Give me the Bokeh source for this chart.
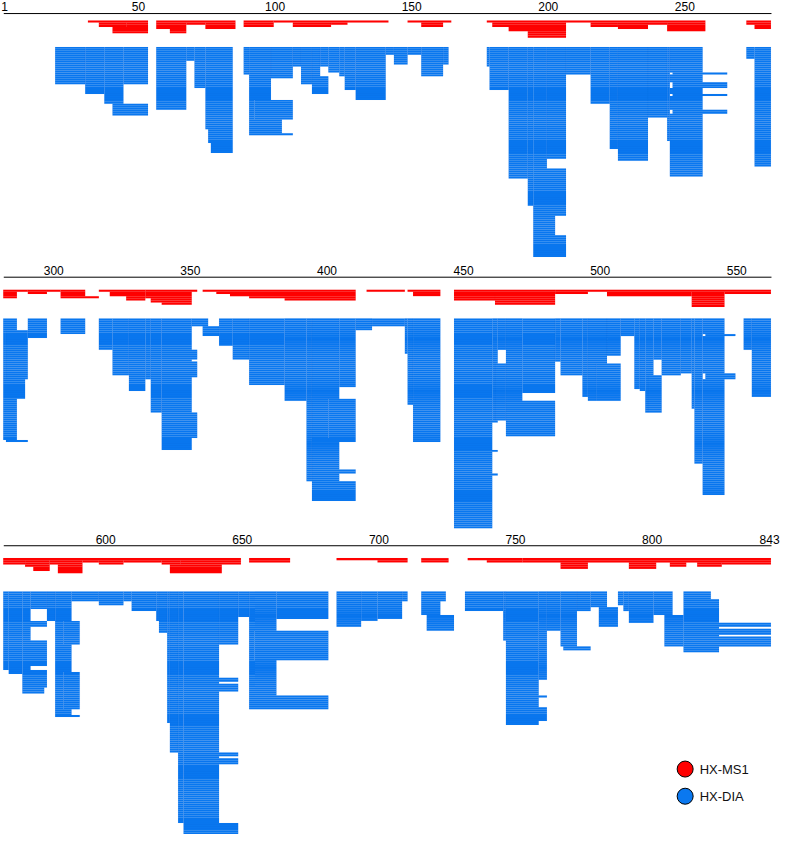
from bokeh.plotting import figure
from bokeh.models import Range1d, ColumnDataSource
from bokeh.core.properties import value
from bokeh.embed import file_html
from bokeh.resources import INLINE

# ---------------- data ----------------
ROW_LEN = 281
ROW_TICKS = [[1, 50, 100, 150, 200, 250],
             [300, 350, 400, 450, 500, 550],
             [600, 650, 700, 750, 800, 843]]
SERIES = ["HX-MS1", "HX-DIA"]

# HX-DIA peptides: start residue, end residue, number of peptides with that span
DIA_START = [20, 31, 38, 45, 41,
             57, 68, 71, 75, 76, 77,
             89, 91, 99, 93, 91, 91, 91,
             107, 110, 114, 117, 114, 120, 124, 126, 130, 141, 144, 149, 154, 162,
             178, 179, 186, 193, 195, 200, 195, 195, 195,
             207, 216, 223, 226, 237, 244,
             245, 246, 245, 246, 245, 246, 245, 246, 245,
             273, 276,
             282, 291, 283, 282, 282, 282, 283,
             303,
             317, 322, 328, 334, 336,
             351, 340, 340, 340, 340, 340, 340, 340, 355,
             361, 366, 372, 385, 393,
             395, 405, 401, 395, 395, 395, 395, 395, 395,
             411, 417, 429, 430, 432,
             447, 447, 447, 447, 447, 447, 447,
             461, 463, 462, 461,
             466, 472, 466,
             484, 486, 494,
             496, 503, 499, 496,
             508, 513, 515,
             517, 520, 518, 517,
             523, 530,
             534, 535, 538, 539, 538, 539, 538,
             553, 556,
             563, 565,
             570, 573, 570, 570, 570, 570, 570, 570,
             579,
             582, 588, 585, 582, 582, 585, 582, 582, 582,
             598, 607, 610, 619, 620, 623, 624, 627,
             629, 642, 629, 629, 629, 629, 629, 629, 629, 629, 629,
             649,
             653, 663, 655, 653, 655, 653, 655, 653, 653, 653,
             685, 694, 700, 709,
             716, 716, 718,
             732,
             746, 747, 759, 747, 747, 747, 747,
             762, 767, 773, 768,
             778, 781,
             788, 790, 792, 801, 805,
             812, 812, 812, 812, 812, 812, 812, 812]
DIA_END = [30, 37, 44, 53, 53,
           67, 70, 74, 84, 84, 84,
           90, 98, 106, 106, 92, 102, 106,
           109, 113, 116, 119, 119, 123, 125, 129, 140, 143, 148, 153, 161, 163,
           178, 185, 192, 194, 199, 206, 206, 202, 206,
           215, 222, 225, 236, 243, 244,
           256, 265, 256, 265, 256, 265, 256, 265, 256,
           275, 281,
           286, 297, 290, 282, 289, 286, 290,
           311,
           321, 327, 333, 335, 339,
           356, 350, 352, 350, 352, 350, 352, 350, 360,
           365, 371, 384, 392, 394,
           404, 410, 410, 400, 410, 404, 410, 404, 410,
           416, 428, 429, 431, 441,
           460, 462, 460, 462, 460, 462, 460,
           462, 465, 465, 461,
           471, 483, 483,
           485, 493, 495,
           502, 507, 507, 498,
           512, 514, 516,
           519, 522, 522, 517,
           529, 533,
           534, 537, 545, 549, 545, 549, 545,
           555, 562,
           564, 569,
           572, 578, 578, 572, 578, 572, 578, 577,
           581,
           587, 597, 590, 584, 587, 590, 584, 587, 590,
           606, 609, 618, 619, 622, 623, 626, 628,
           641, 648, 648, 641, 648, 641, 648, 641, 648, 641, 648,
           652,
           662, 681, 681, 654, 681, 654, 681, 654, 662, 681,
           693, 699, 708, 710,
           724, 722, 727,
           745,
           746, 758, 761, 761, 758, 761, 758,
           766, 772, 777, 777,
           783, 787,
           789, 791, 800, 807, 811,
           821, 824, 843, 824, 843, 824, 843, 824]
DIA_COUNT = [19, 24, 29, 19, 6,
             32, 7, 21, 42, 7, 5,
             14, 27, 16, 10, 10, 7, 1,
             10, 19, 15, 10, 9, 13, 15, 22, 27, 4, 9, 4, 15, 9,
             10, 22, 67, 81, 62, 57, 24, 10, 11,
             14, 29, 52, 58, 36, 48,
             13, 1, 4, 3, 3, 1, 7, 2, 32,
             6, 61,
             6, 10, 25, 25, 10, 21, 1,
             8,
             16, 29, 37, 31, 48,
             4, 16, 5, 1, 8, 18, 13, 6, 5,
             14, 21, 34, 42, 83,
             41, 35, 20, 20, 2, 14, 2, 4, 10,
             6, 4, 18, 44, 63,
             52, 1, 14, 1, 11, 1, 27,
             23, 16, 29, 29,
             42, 38, 18,
             22, 29, 40,
             23, 19, 19, 19,
             9, 36, 37,
             29, 21, 19, 19,
             29, 28,
             46, 74, 8, 1, 19, 3, 59,
             16, 40,
             40, 42,
             15, 9, 3, 7, 13, 2, 9, 3,
             15,
             15, 5, 12, 12, 14, 19, 19, 3, 1,
             7, 5, 10, 15, 21, 67, 82, 118,
             44, 27, 2, 1, 4, 31, 2, 1, 3, 30, 6,
             13,
             20, 14, 3, 3, 9, 9, 3, 3, 18, 7,
             18, 15, 14, 5,
             5, 7, 8,
             10,
             25, 53, 45, 1, 5, 7, 2,
             20, 28, 10, 2,
             8, 10,
             7, 10, 16, 12, 16,
             4, 12, 2, 1, 3, 1, 5, 3]

# HX-MS1 peptides
MS1_START = [32, 36, 46, 41,
             57, 57, 62, 75, 68,
             89, 100, 107, 121,
             149, 154,
             178, 180, 186, 193,
             207, 216, 226, 237, 244,
             273, 276,
             282, 282, 291, 298, 303, 303,
             317, 321, 327,
             334, 334, 336, 340,
             355, 360, 365, 372, 385,
             415, 430, 432,
             447, 447, 462,
             484, 484,
             503, 503, 534, 546,
             563, 563, 571, 574, 580, 583, 592, 598, 607, 621, 628, 624,
             653, 685, 700, 716, 733, 740,
             753, 767, 792, 807, 817, 826]
MS1_END = [53, 45, 53, 53,
           85, 67, 67, 85, 74,
           99, 141, 120, 126,
           164, 161,
           206, 206, 206, 206,
           257, 225, 236, 243, 257,
           281, 281,
           290, 286, 297, 302, 311, 316,
           333, 333, 333,
           352, 350, 350, 350,
           410, 410, 410, 410, 410,
           428, 441, 441,
           483, 461, 483,
           502, 495,
           562, 533, 545, 562,
           649, 570, 579, 579, 591, 591, 597, 606, 620, 627, 649, 642,
           667, 710, 710, 725, 752, 752,
           843, 776, 801, 812, 825, 843]
MS1_COUNT = [1, 2, 2, 3,
             1, 3, 2, 3, 1,
             3, 1, 2, 1,
             1, 2,
             1, 2, 2, 3,
             1, 2, 3, 1, 4,
             2, 2,
             1, 3, 2, 1, 3, 1,
             1, 2, 2,
             1, 3, 2, 1,
             1, 1, 1, 1, 1,
             1, 1, 2,
             2, 3, 5,
             1, 1,
             1, 2, 7, 1,
             1, 2, 3, 2, 2, 4, 1, 2, 1, 2, 2, 4,
             2, 1, 1, 2, 1, 1,
             2, 3, 3, 2, 2, 1]

# ---------------- style / layout (reference-pixel units) ----------------
BLUE = "#0a78f0"
BLUE_EDGE = "#0657b8"
RED = "#ff0000"
RED_EDGE = "#c00000"
FONT = "Liberation Sans"
W, H = 780, 834
LINE_Y = [13.3, 282.0, 555.7]      # row ruler
RED_TOP = [20.3, 294.7, 568.3]
BLUE_TOP = [47.3, 324.0, 602.3]
RED_PITCH = 2.2
BLUE_PITCH = 2.0
LEG_X, LEG_Y, LEG_DY, LEG_TX = 250.1, 783.3, 27.7, 255.4


def stack(starts, ends, counts):
    """first-fit stacking of peptides, row by row"""
    occ = {}
    out = []
    for s, e, c in zip(starts, ends, counts):
        row = (s - 1) // ROW_LEN
        levels = occ.setdefault(row, [])
        for _ in range(c):
            lv = 0
            while lv < len(levels) and any(not (e < a or s > b) for a, b in levels[lv]):
                lv += 1
            if lv == len(levels):
                levels.append([])
            levels[lv].append((s, e))
            out.append((row, s, e, lv))
    return out


def source(items, tops, pitch):
    return ColumnDataSource(dict(
        left=[s - 0.5 - r * ROW_LEN for r, s, e, l in items],
        right=[e + 0.5 - r * ROW_LEN for r, s, e, l in items],
        top=[tops[r] + l * pitch for r, s, e, l in items],
        bottom=[tops[r] + (l + 1) * pitch for r, s, e, l in items],
    ))


dia = stack(DIA_START, DIA_END, DIA_COUNT)
ms1 = stack(MS1_START, MS1_END, MS1_COUNT)

p = figure(width=W, height=H, x_range=Range1d(-0.5, 285.0), y_range=Range1d(850, 0),
           x_axis_location=None, y_axis_location=None,
           toolbar_location=None, output_backend="svg", min_border=0)
p.xgrid.visible = False
p.ygrid.visible = False
p.outline_line_color = None

# rulers with their tick labels
p.segment(x0=[0.7] * 3, x1=[281.7] * 3, y0=LINE_Y, y1=LINE_Y, line_color="black", line_width=1)
tick_x, tick_y, tick_t = [], [], []
for k, ticks in enumerate(ROW_TICKS):
    for t in ticks:
        tick_x.append(t - k * ROW_LEN)
        tick_y.append(LINE_Y[k] - 2.2)
        tick_t.append(str(t))
p.text(x=tick_x, y=tick_y, text=tick_t, text_align="center", text_baseline="bottom",
       text_font=value(FONT), text_font_size="12px", text_color="black")

# peptide bars
p.quad(left="left", right="right", top="top", bottom="bottom",
       source=source(ms1, RED_TOP, RED_PITCH), fill_color=RED,
       line_color=RED_EDGE, line_alpha=0.1, line_width=0.4)
p.quad(left="left", right="right", top="top", bottom="bottom",
       source=source(dia, BLUE_TOP, BLUE_PITCH), fill_color=BLUE,
       line_color=BLUE_EDGE, line_alpha=0.1, line_width=0.4)

# legend
p.scatter(x=[LEG_X, LEG_X], y=[LEG_Y, LEG_Y + LEG_DY], size=16, marker="circle",
          fill_color=[RED, BLUE], line_color="black", line_width=1)
p.text(x=[LEG_TX, LEG_TX], y=[LEG_Y, LEG_Y + LEG_DY], text=SERIES, text_align="left",
       text_baseline="middle", text_font=value(FONT), text_font_size="13px", text_color="#111111")

open("out.html", "w").write(file_html(p, INLINE))
